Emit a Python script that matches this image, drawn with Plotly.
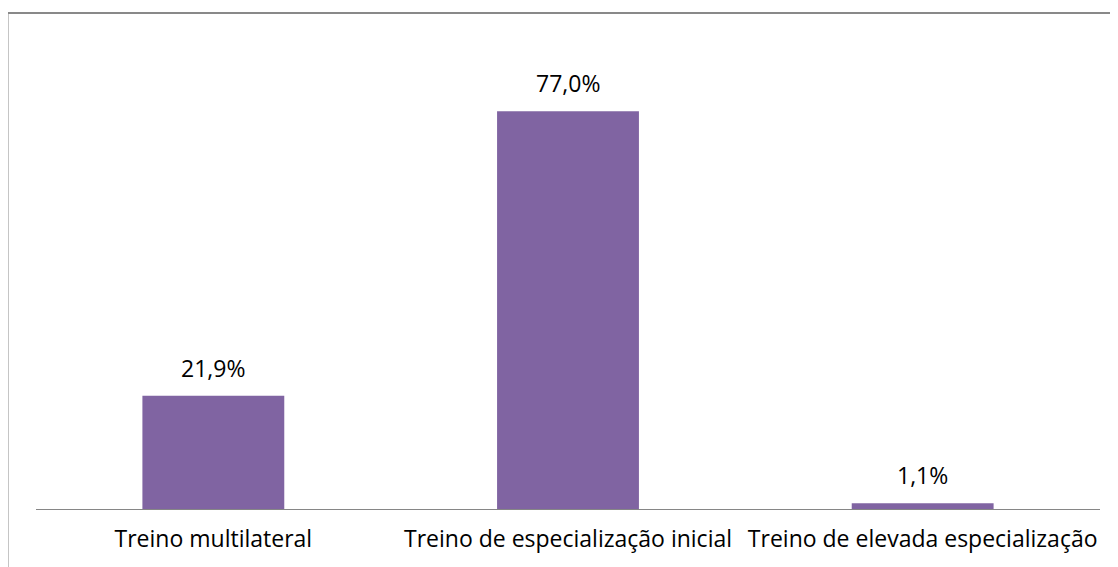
import plotly.graph_objects as go

categories = ["Treino multilateral", "Treino de especialização inicial", "Treino de elevada especialização"]
values = [21.9, 77.0, 1.1]
labels = ["21,9%", "77,0%", "1,1%"]

BAR = "#8064A2"
FONT = "Open Sans"

fig = go.Figure()
fig.add_trace(go.Bar(x=categories, y=values, marker=dict(color=BAR, line=dict(width=0)),
                     width=0.4, hoverinfo="skip"))

for c, v, t in zip(categories, values, labels):
    fig.add_annotation(x=c, y=v, text=t, showarrow=False, yshift=28,
                       font=dict(family=FONT, size=23, color="#000000"))

fig.add_shape(type="rect", xref="paper", yref="paper", x0=-0.0268, x1=1.2, y0=-0.3, y1=1.0667,
              line=dict(color="#898989", width=2), fillcolor="rgba(0,0,0,0)", layer="below")

fig.update_layout(
    width=1118, height=567,
    margin=dict(l=27.5, r=25.5, t=36, b=66),
    paper_bgcolor="white", plot_bgcolor="white",
    showlegend=False,
    xaxis=dict(showline=True, linecolor="#868686", linewidth=1, ticks="", showgrid=False,
               ticklabelstandoff=9,
               tickfont=dict(family=FONT, size=23, color="#000000"), fixedrange=True),
    yaxis=dict(range=[0, 90], visible=False, showgrid=False, zeroline=False),
)

fig.write_html("out.html")
